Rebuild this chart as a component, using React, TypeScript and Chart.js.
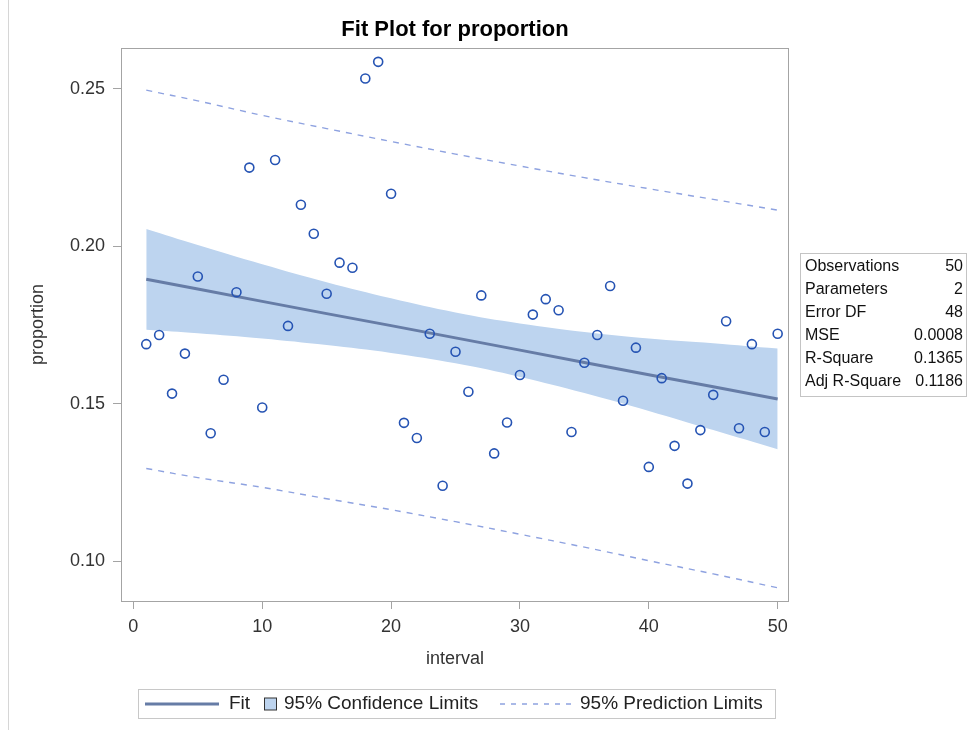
import React, { useEffect, useRef } from "react";
import { Chart, registerables } from "chart.js";

Chart.register(...registerables);

// ---------- data ----------
const intervals = [
  1, 2, 3, 4, 5, 6, 7, 8, 9, 10, 11, 12, 13, 14, 15, 16, 17, 18, 19, 20, 21, 22, 23, 24, 25,
  26, 27, 28, 29, 30, 31, 32, 33, 34, 35, 36, 37, 38, 39, 40, 41, 42, 43, 44, 45, 46, 47, 48, 49, 50,
];
const proportion = [
  0.1689, 0.1718, 0.1532, 0.1659, 0.1904, 0.1406, 0.1576, 0.1854, 0.225, 0.1488,
  0.2274, 0.1747, 0.2132, 0.204, 0.1849, 0.1948, 0.1932, 0.2533, 0.2586, 0.2167,
  0.1439, 0.1391, 0.1722, 0.1239, 0.1665, 0.1538, 0.1844, 0.1342, 0.144, 0.1591,
  0.1783, 0.1832, 0.1797, 0.141, 0.163, 0.1718, 0.1874, 0.1509, 0.1678, 0.1299,
  0.1581, 0.1366, 0.1246, 0.1416, 0.1528, 0.1762, 0.1422, 0.1689, 0.141, 0.1722,
];
const curveX = [1, 5, 10, 15, 20, 25, 30, 35, 40, 45, 50];
const fitLine = [0.1895, 0.1864, 0.1825, 0.1786, 0.1748, 0.1709, 0.167, 0.1631, 0.1592, 0.1554, 0.1515];
const ciUpper = [0.2055, 0.2004, 0.1943, 0.1886, 0.1835, 0.179, 0.1755, 0.1728, 0.1707, 0.1692, 0.1675];
const ciLower = [0.1735, 0.1724, 0.1707, 0.1686, 0.1661, 0.1628, 0.1585, 0.1534, 0.1477, 0.1416, 0.1355];
const predUpper = [0.2496, 0.2462, 0.2416, 0.2374, 0.2333, 0.2293, 0.2255, 0.2218, 0.2183, 0.2149, 0.2115];
const predLower = [0.1294, 0.1265, 0.1234, 0.1198, 0.1163, 0.1125, 0.1085, 0.1044, 0.1001, 0.0959, 0.0915];

const xTicks = [0, 10, 20, 30, 40, 50];
const yTicks = [0.1, 0.15, 0.2, 0.25];

const statLabels = ["Observations", "Parameters", "Error DF", "MSE", "R-Square", "Adj R-Square"];
const statValues = ["50", "2", "48", "0.0008", "0.1365", "0.1186"];

const legendLabels = ["Fit", "95% Confidence Limits", "95% Prediction Limits"];
const titleText = "Fit Plot for proportion";
const xTitle = "interval";
const yTitle = "proportion";

// ---------- style ----------
const FONT = '"Liberation Sans", Arial, Helvetica, sans-serif';
const AXIS = "#a4a4a4";
const TEXT = "#333333";
const FIT = "#667ca6";
const CI_FILL = "rgb(189, 212, 239)";
const PRED = "#8ea2e0";
const POINT = "#2553b3";

export default function App() {
  const ref = useRef<HTMLCanvasElement>(null);

  useEffect(() => {
    const canvas = ref.current;
    if (!canvas) return;
    const toXY = (xs: number[], ys: number[]) => xs.map((x, i) => ({ x, y: ys[i] }));

    const overlay = {
      id: "overlay",
      afterDraw(chart: any) {
        const ctx: CanvasRenderingContext2D = chart.ctx;
        const ca = chart.chartArea;
        ctx.save();

        // page edge line
        ctx.strokeStyle = "#d6d6d6";
        ctx.lineWidth = 1;
        ctx.beginPath();
        ctx.moveTo(8.5, 0);
        ctx.lineTo(8.5, 730);
        ctx.stroke();

        // plot frame
        ctx.strokeStyle = AXIS;
        ctx.lineWidth = 1;
        ctx.strokeRect(Math.round(ca.left) + 0.5, Math.round(ca.top) + 0.5, Math.round(ca.right - ca.left) - 1, Math.round(ca.bottom - ca.top));

        // title
        ctx.fillStyle = "#000";
        ctx.font = `bold 22px ${FONT}`;
        ctx.textAlign = "center";
        ctx.textBaseline = "alphabetic";
        ctx.fillText(titleText, (ca.left + ca.right) / 2, 36);

        // stats box
        const bx = 800, by = 253, bw = 166, bh = 143;
        ctx.fillStyle = "#fff";
        ctx.fillRect(bx, by, bw, bh);
        ctx.strokeStyle = "#c4c4c4";
        ctx.strokeRect(bx + 0.5, by + 0.5, bw, bh);
        ctx.font = `16px ${FONT}`;
        ctx.fillStyle = "#111";
        ctx.textBaseline = "middle";
        statLabels.forEach((lab, i) => {
          const y = 267 + i * 23;
          ctx.textAlign = "left";
          ctx.fillText(lab, bx + 5, y);
          ctx.textAlign = "right";
          ctx.fillText(statValues[i], bx + bw - 3, y);
        });

        // legend
        const lx = 138, ly = 689, lw = 637, lh = 29;
        const cy = ly + lh / 2 + 0.5;
        ctx.strokeStyle = "#c8c8c8";
        ctx.lineWidth = 1;
        ctx.strokeRect(lx + 0.5, ly + 0.5, lw, lh);
        ctx.font = `19px ${FONT}`;
        ctx.fillStyle = "#222";
        ctx.textAlign = "left";
        ctx.textBaseline = "middle";
        // fit
        ctx.strokeStyle = FIT;
        ctx.lineWidth = 3;
        ctx.beginPath();
        ctx.moveTo(145, cy);
        ctx.lineTo(219, cy);
        ctx.stroke();
        ctx.fillText(legendLabels[0], 229, cy);
        // confidence square
        ctx.fillStyle = CI_FILL;
        ctx.fillRect(264.5, cy - 6, 12, 12);
        ctx.strokeStyle = "#333";
        ctx.lineWidth = 1;
        ctx.strokeRect(264.5, cy - 6, 12, 12);
        ctx.fillStyle = "#222";
        ctx.fillText(legendLabels[1], 284, cy);
        // prediction dashes
        ctx.strokeStyle = PRED;
        ctx.lineWidth = 1.3;
        ctx.setLineDash([5, 6]);
        ctx.beginPath();
        ctx.moveTo(500, cy);
        ctx.lineTo(572, cy);
        ctx.stroke();
        ctx.setLineDash([]);
        ctx.fillText(legendLabels[2], 580, cy);

        ctx.restore();
      },
    };

    const chart = new Chart(canvas, {
      type: "scatter",
      data: {
        datasets: [
          {
            label: "ciUpper",
            type: "line",
            data: toXY(curveX, ciUpper),
            borderColor: "rgba(0,0,0,0)",
            backgroundColor: CI_FILL,
            pointRadius: 0,
            fill: "+1",
            tension: 0.4,
            order: 5,
          },
          {
            label: "ciLower",
            type: "line",
            data: toXY(curveX, ciLower),
            borderColor: "rgba(0,0,0,0)",
            pointRadius: 0,
            fill: false,
            tension: 0.4,
            order: 5,
          },
          {
            label: "predUpper",
            type: "line",
            data: toXY(curveX, predUpper),
            borderColor: PRED,
            borderWidth: 1.4,
            borderDash: [6, 6],
            pointRadius: 0,
            fill: false,
            tension: 0.4,
            order: 4,
          },
          {
            label: "predLower",
            type: "line",
            data: toXY(curveX, predLower),
            borderColor: PRED,
            borderWidth: 1.4,
            borderDash: [6, 6],
            pointRadius: 0,
            fill: false,
            tension: 0.4,
            order: 4,
          },
          {
            label: "Fit",
            type: "line",
            data: toXY(curveX, fitLine),
            borderColor: FIT,
            borderWidth: 3,
            pointRadius: 0,
            fill: false,
            order: 3,
          },
          {
            label: "proportion",
            data: toXY(intervals, proportion),
            borderColor: POINT,
            backgroundColor: "rgba(0,0,0,0)",
            borderWidth: 1.6,
            pointRadius: 4.5,
            pointStyle: "circle",
            showLine: false,
            order: 1,
          },
        ],
      } as any,
      options: {
        responsive: false,
        animation: false,
        devicePixelRatio: 1,
        layout: { padding: { top: 48, left: 0, right: 185, bottom: 0 } },
        plugins: {
          legend: { display: false },
          title: { display: false },
          tooltip: { enabled: false },
        },
        scales: {
          x: {
            type: "linear",
            min: -0.96,
            max: 50.88,
            afterBuildTicks: (s: any) => {
              s.ticks = xTicks.map((v) => ({ value: v }));
            },
            afterFit: (s: any) => {
              s.height = 129;
            },
            ticks: {
              autoSkip: false,
              maxRotation: 0,
              padding: 7,
              color: TEXT,
              font: { family: FONT, size: 18 },
              callback: (v: any) => String(v),
            },
            grid: { display: true, drawOnChartArea: false, drawTicks: true, tickLength: 8, color: AXIS },
            border: { display: false },
            title: {
              display: true,
              text: xTitle,
              color: TEXT,
              font: { family: FONT, size: 18 },
              padding: { top: 0, bottom: 60 },
            },
          },
          y: {
            type: "linear",
            min: 0.0873,
            max: 0.263,
            afterBuildTicks: (s: any) => {
              s.ticks = yTicks.map((v) => ({ value: v }));
            },
            afterFit: (s: any) => {
              s.width = 121;
            },
            ticks: {
              autoSkip: false,
              padding: 8,
              color: TEXT,
              font: { family: FONT, size: 18 },
              callback: (v: any) => Number(v).toFixed(2),
            },
            grid: { display: true, drawOnChartArea: false, drawTicks: true, tickLength: 8, color: AXIS },
            border: { display: false },
            title: {
              display: true,
              text: yTitle,
              color: TEXT,
              font: { family: FONT, size: 18 },
              padding: { top: 27, bottom: 0 },
            },
          },
        },
      } as any,
      plugins: [overlay],
    });
    return () => chart.destroy();
  }, []);

  return (
    <div style={{ position: "absolute", left: 0, top: 0, width: 974, height: 730, background: "#fff" }}>
      <canvas ref={ref} width={974} height={730} style={{ display: "block", width: 974, height: 730 }} />
    </div>
  );
}
